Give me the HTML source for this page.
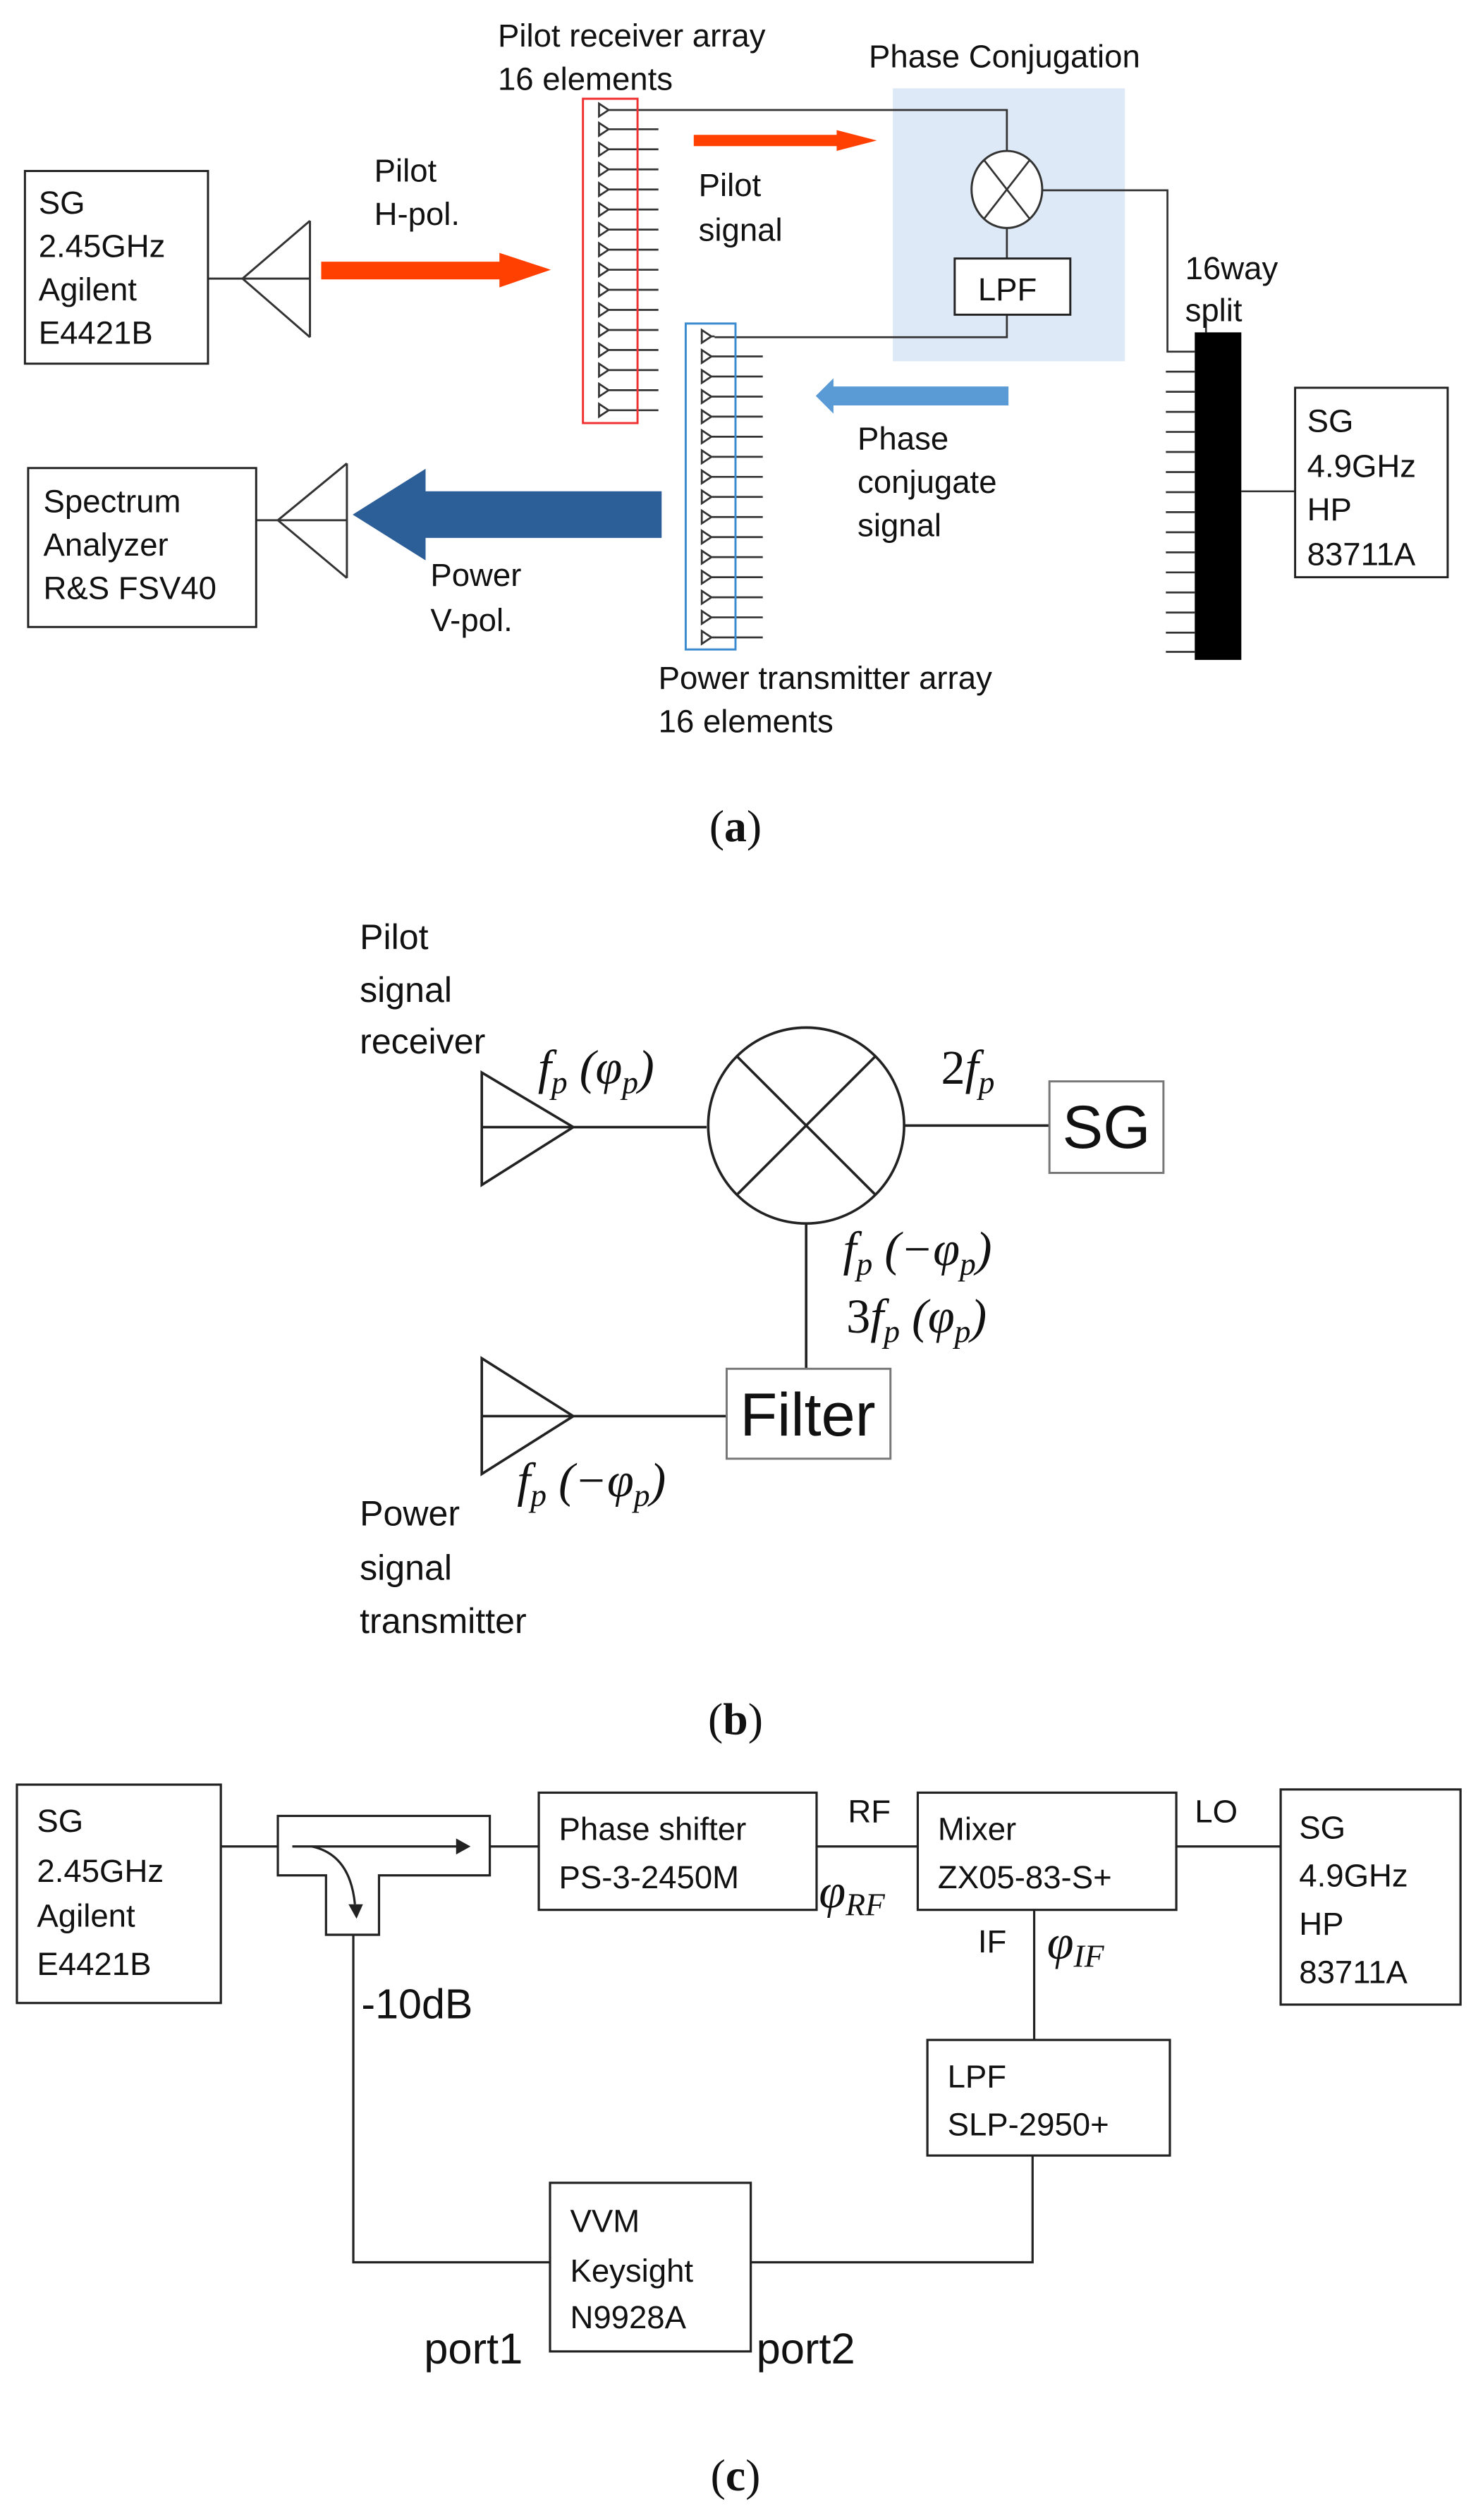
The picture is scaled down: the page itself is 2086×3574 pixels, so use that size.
<!DOCTYPE html>
<html><head><meta charset="utf-8"><style>
html,body{margin:0;padding:0;background:#fff;}
svg{display:block;}
text{font-family:"Liberation Sans",Arial,sans-serif;fill:#111;}
.m{font-family:"Liberation Serif",serif;font-style:italic;}
.cap{font-family:"Liberation Serif",serif;}
</style></head><body>
<svg width="2086" height="3574" viewBox="0 0 916 1569.5" xmlns="http://www.w3.org/2000/svg">
<rect x="0" y="0" width="916" height="1570" fill="#fff"/>
<!-- ===== (a) ===== -->
<g font-size="20">
<rect x="15.5" y="106.5" width="114" height="120" fill="none" stroke="#222" stroke-width="1.3"/>
<text x="24" y="133">SG</text><text x="24" y="160">2.45GHz</text><text x="24" y="187">Agilent</text><text x="24" y="214">E4421B</text>
<g stroke="#333" stroke-width="1.3" fill="none">
<line x1="130" y1="173.5" x2="193" y2="173.5"/><line x1="151" y1="173.5" x2="193" y2="137.5"/><line x1="151" y1="173.5" x2="193" y2="210"/><line x1="193" y1="137.5" x2="193" y2="210"/>
</g>
<polygon points="200,163 311,163 311,157.5 343,168 311,179 311,174 200,174" fill="#ff4000"/>
<text x="233" y="113">Pilot</text><text x="233" y="140">H-pol.</text>
<text x="310" y="29">Pilot receiver array</text><text x="310" y="56">16 elements</text>
<text x="541" y="42">Phase Conjugation</text>
<rect x="556" y="55" width="144.5" height="170" fill="#dde9f6"/>
<g stroke="#333" stroke-width="1.2" fill="none">
<path d="M373,64.5 l6,4 l-6,4 z M379,68.5 H627 V95"/>
<path d="M373,76.5 l6,4 l-6,4 z M379,80.5 H410"/>
<path d="M373,89 l6,4 l-6,4 z M379,93 H410"/>
<path d="M373,101.5 l6,4 l-6,4 z M379,105.5 H410"/>
<path d="M373,114 l6,4 l-6,4 z M379,118 H410"/>
<path d="M373,126.5 l6,4 l-6,4 z M379,130.5 H410"/>
<path d="M373,139 l6,4 l-6,4 z M379,143 H410"/>
<path d="M373,151.5 l6,4 l-6,4 z M379,155.5 H410"/>
<path d="M373,164 l6,4 l-6,4 z M379,168 H410"/>
<path d="M373,176.5 l6,4 l-6,4 z M379,180.5 H410"/>
<path d="M373,189 l6,4 l-6,4 z M379,193 H410"/>
<path d="M373,201.5 l6,4 l-6,4 z M379,205.5 H410"/>
<path d="M373,214 l6,4 l-6,4 z M379,218 H410"/>
<path d="M373,226.5 l6,4 l-6,4 z M379,230.5 H410"/>
<path d="M373,239 l6,4 l-6,4 z M379,243 H410"/>
<path d="M373,251.5 l6,4 l-6,4 z M379,255.5 H410"/>
</g>
<rect x="363" y="61.5" width="34" height="202" fill="none" stroke="#f03030" stroke-width="1.3"/>
<ellipse cx="627" cy="118" rx="22" ry="24" fill="#fff" stroke="#333" stroke-width="1.3"/>
<line x1="613" y1="100" x2="641" y2="136" stroke="#333" stroke-width="1.2"/>
<line x1="641" y1="100" x2="613" y2="136" stroke="#333" stroke-width="1.2"/>
<g stroke="#333" stroke-width="1.2" fill="none">
<path d="M627,142 V161"/>
<path d="M649,118.5 H727 V219 H744"/>
<path d="M627,196 V210 H445"/>
<path d="M751,199 V207"/>
</g>
<rect x="594.5" y="161" width="72" height="35" fill="#fff" stroke="#222" stroke-width="1.3"/>
<text x="609" y="187">LPF</text>
<polygon points="432,84 521,84 521,81 546,87.5 521,94 521,91 432,91" fill="#ff4000"/>
<text x="435" y="122">Pilot</text><text x="435" y="150">signal</text>
<text x="738" y="174">16way</text><text x="738" y="200">split</text>
<rect x="744" y="207" width="29" height="204" fill="#000"/>
<g stroke="#333" stroke-width="1.2">
<line x1="726" y1="231.5" x2="744" y2="231.5"/><line x1="726" y1="244" x2="744" y2="244"/><line x1="726" y1="256.5" x2="744" y2="256.5"/><line x1="726" y1="269" x2="744" y2="269"/><line x1="726" y1="281.5" x2="744" y2="281.5"/><line x1="726" y1="294" x2="744" y2="294"/><line x1="726" y1="306.5" x2="744" y2="306.5"/><line x1="726" y1="319" x2="744" y2="319"/><line x1="726" y1="331.5" x2="744" y2="331.5"/><line x1="726" y1="344" x2="744" y2="344"/><line x1="726" y1="356.5" x2="744" y2="356.5"/><line x1="726" y1="369" x2="744" y2="369"/><line x1="726" y1="381.5" x2="744" y2="381.5"/><line x1="726" y1="394" x2="744" y2="394"/><line x1="726" y1="406" x2="744" y2="406"/>
<line x1="773" y1="306" x2="806" y2="306"/>
</g>
<rect x="806.5" y="241.5" width="95" height="118" fill="none" stroke="#222" stroke-width="1.3"/>
<text x="814" y="269">SG</text><text x="814" y="297">4.9GHz</text><text x="814" y="324">HP</text><text x="814" y="352">83711A</text>
<g stroke="#333" stroke-width="1.2" fill="none">
<path d="M437,205.5 l6,4 l-6,4 z M443,209.5 H445"/>
<path d="M437,218 l6,4 l-6,4 z M443,222 H475"/>
<path d="M437,230.5 l6,4 l-6,4 z M443,234.5 H475"/>
<path d="M437,243 l6,4 l-6,4 z M443,247 H475"/>
<path d="M437,255.5 l6,4 l-6,4 z M443,259.5 H475"/>
<path d="M437,268 l6,4 l-6,4 z M443,272 H475"/>
<path d="M437,280.5 l6,4 l-6,4 z M443,284.5 H475"/>
<path d="M437,293 l6,4 l-6,4 z M443,297 H475"/>
<path d="M437,305.5 l6,4 l-6,4 z M443,309.5 H475"/>
<path d="M437,318 l6,4 l-6,4 z M443,322 H475"/>
<path d="M437,330.5 l6,4 l-6,4 z M443,334.5 H475"/>
<path d="M437,343 l6,4 l-6,4 z M443,347 H475"/>
<path d="M437,355.5 l6,4 l-6,4 z M443,359.5 H475"/>
<path d="M437,368 l6,4 l-6,4 z M443,372 H475"/>
<path d="M437,380.5 l6,4 l-6,4 z M443,384.5 H475"/>
<path d="M437,393 l6,4 l-6,4 z M443,397 H475"/>
</g>
<rect x="427" y="201.5" width="31" height="203" fill="none" stroke="#3a8ad0" stroke-width="1.3"/>
<polygon points="628,240.7 519,240.7 519,235.6 508,246.6 519,257.6 519,252.5 628,252.5" fill="#5b9bd5"/>
<text x="534" y="280">Phase</text><text x="534" y="307">conjugate</text><text x="534" y="334">signal</text>
<polygon points="412,306 265,306 265,292 219.6,320.5 265,349 265,335 412,335" fill="#2c5e98"/>
<text x="268" y="365">Power</text><text x="268" y="393">V-pol.</text>
<rect x="17.5" y="291.5" width="142" height="99" fill="none" stroke="#222" stroke-width="1.3"/>
<text x="27" y="319">Spectrum</text><text x="27" y="346">Analyzer</text><text x="27" y="373">R&amp;S FSV40</text>
<g stroke="#333" stroke-width="1.3" fill="none">
<line x1="160" y1="324" x2="216" y2="324"/><line x1="173" y1="324" x2="216" y2="288.6"/><line x1="173" y1="324" x2="216" y2="360"/><line x1="216" y1="288.6" x2="216" y2="360"/>
</g>
<text x="410" y="429">Power transmitter array</text><text x="410" y="456">16 elements</text>
</g>
<text class="cap" x="458" y="524" font-size="28" text-anchor="middle">(<tspan font-weight="bold">a</tspan>)</text>

<!-- ===== (b) ===== -->
<g font-size="22" >
<text x="224" y="591" fill="#333">Pilot</text><text x="224" y="624" fill="#333">signal</text><text x="224" y="656" fill="#333">receiver</text>
<text x="224" y="950" fill="#333">Power</text><text x="224" y="984" fill="#333">signal</text><text x="224" y="1017" fill="#333">transmitter</text>
</g>
<g stroke="#222" stroke-width="1.6" fill="none">
<path d="M300,668 L357,702 L300,738 Z M300,702 H440"/>
<circle cx="502" cy="701" r="61"/>
<line x1="459" y1="658" x2="545" y2="744"/><line x1="545" y1="658" x2="459" y2="744"/>
<path d="M563,701 H653"/>
<path d="M502,762 V852"/>
<path d="M300,846 L357,882 L300,918 Z M300,882 H452"/>
</g>
<rect x="653.5" y="673.5" width="71" height="57" fill="#fff" stroke="#777" stroke-width="1.3"/>
<text x="689" y="715" font-size="38" text-anchor="middle">SG</text>
<rect x="452.5" y="852.5" width="102" height="56" fill="#fff" stroke="#777" stroke-width="1.3"/>
<text x="503" y="894" font-size="38" text-anchor="middle">Filter</text>
<g font-size="30">
<text class="m" x="335" y="675">f<tspan font-size="20" dy="6">p</tspan><tspan dy="-6"> (φ</tspan><tspan font-size="20" dy="6">p</tspan><tspan dy="-6">)</tspan></text>
<text class="m" x="586" y="675"><tspan font-style="normal">2</tspan>f<tspan font-size="20" dy="6">p</tspan></text>
<text class="m" x="525" y="788">f<tspan font-size="20" dy="6">p</tspan><tspan dy="-6"> (−φ</tspan><tspan font-size="20" dy="6">p</tspan><tspan dy="-6">)</tspan></text>
<text class="m" x="527" y="830"><tspan font-style="normal">3</tspan>f<tspan font-size="20" dy="6">p</tspan><tspan dy="-6"> (φ</tspan><tspan font-size="20" dy="6">p</tspan><tspan dy="-6">)</tspan></text>
<text class="m" x="322" y="932">f<tspan font-size="20" dy="6">p</tspan><tspan dy="-6"> (−φ</tspan><tspan font-size="20" dy="6">p</tspan><tspan dy="-6">)</tspan></text>
</g>
<text class="cap" x="458" y="1080" font-size="28" text-anchor="middle">(<tspan font-weight="bold">b</tspan>)</text>

<!-- ===== (c) ===== -->
<g font-size="20">
<g stroke="#222" stroke-width="1.4" fill="none">
<rect x="10.5" y="1111.5" width="127" height="136"/>
<path d="M138,1150 H173"/>
<path d="M173,1131 H305 V1168 H236 V1205 H203 V1168 H173 Z"/>
<path d="M182,1150 H286"/>
<path d="M194,1150 Q218,1155 221,1186"/>
<path d="M305,1150 H335"/>
<rect x="335.5" y="1116.5" width="173" height="73"/>
<path d="M509,1150 H571"/>
<rect x="571.5" y="1116.5" width="161" height="73"/>
<path d="M733,1150 H797"/>
<rect x="797.5" y="1114.5" width="112" height="134"/>
<path d="M644,1190 V1270"/>
<rect x="577.5" y="1270.5" width="151" height="72"/>
<path d="M643,1343 V1409 H468"/>
<path d="M220,1205 V1409 H342"/>
<rect x="342.5" y="1359.5" width="125" height="105"/>
</g>
<polygon points="284,1145 293,1150 284,1155" fill="#222"/>
<polygon points="217,1186 226,1186 222,1195" fill="#222"/>
<text x="23" y="1141">SG</text><text x="23" y="1172">2.45GHz</text><text x="23" y="1200">Agilent</text><text x="23" y="1230">E4421B</text>
<text x="348" y="1146">Phase shifter</text><text x="348" y="1176">PS-3-2450M</text>
<text x="584" y="1146">Mixer</text><text x="584" y="1176">ZX05-83-S+</text>
<text x="809" y="1145">SG</text><text x="809" y="1175">4.9GHz</text><text x="809" y="1205">HP</text><text x="809" y="1235">83711A</text>
<text x="590" y="1300">LPF</text><text x="590" y="1330">SLP-2950+</text>
<text x="355" y="1390">VVM</text><text x="355" y="1421">Keysight</text><text x="355" y="1450">N9928A</text>
<text x="528" y="1135">RF</text><text x="744" y="1135">LO</text><text x="609" y="1216">IF</text>
<text x="225" y="1257" font-size="26">-10dB</text>
<text x="264" y="1472" font-size="27">port1</text><text x="471" y="1472" font-size="27">port2</text>
</g>
<text class="m" x="510" y="1188" font-size="30">φ<tspan font-size="20" dy="5">RF</tspan></text>
<text class="m" x="652" y="1220" font-size="30">φ<tspan font-size="20" dy="5">IF</tspan></text>
<text class="cap" x="458" y="1551" font-size="28" text-anchor="middle">(<tspan font-weight="bold">c</tspan>)</text>
</svg>
</body></html>
